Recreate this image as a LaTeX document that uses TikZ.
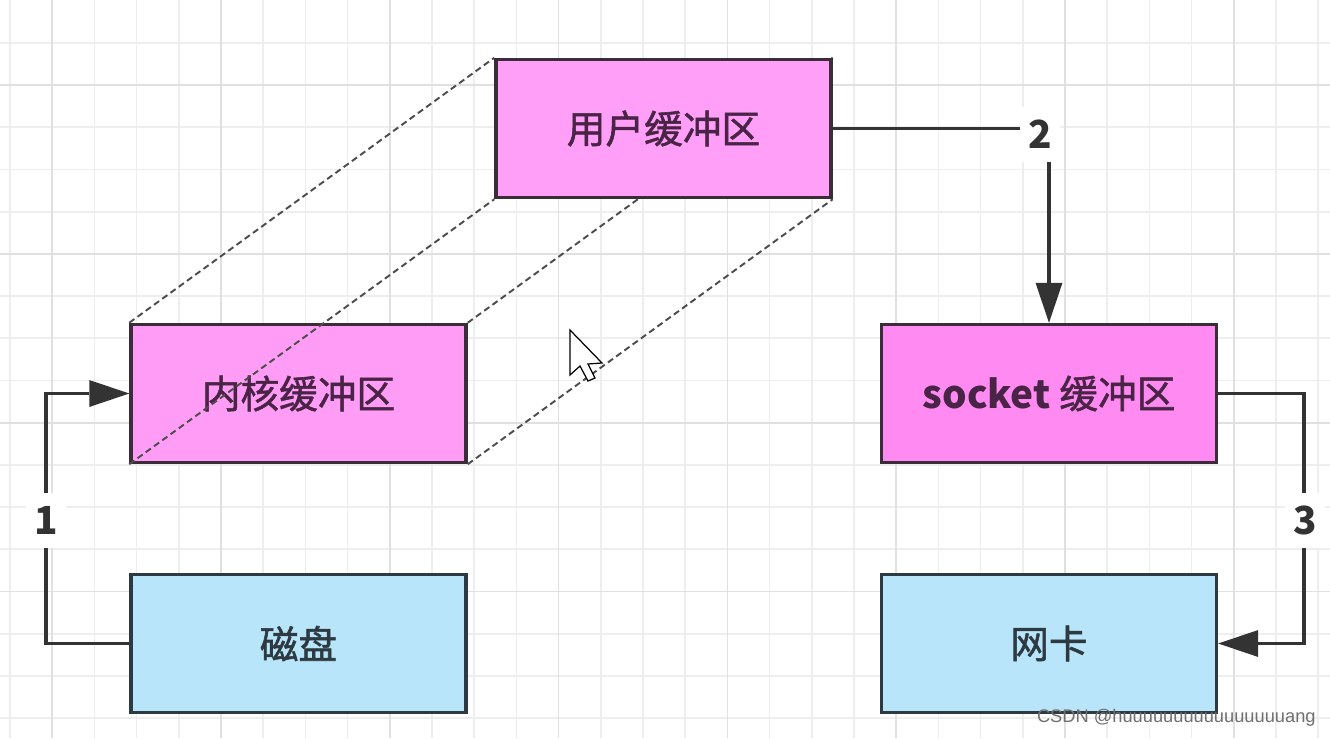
\documentclass[tikz,border=0pt]{standalone}
\usepackage{fontspec}
\setmainfont{Noto Sans CJK SC}
\newfontfamily\midfont[FakeBold=1.4]{Noto Sans CJK SC}
\newfontfamily\wmfont{Liberation Sans}
\pgfdeclarelayer{back}
\pgfdeclarelayer{front}
\pgfsetlayers{back,main,front}
\definecolor{userpink}{HTML}{FF9FF7}
\definecolor{kernelpink}{HTML}{FF9CF6}
\definecolor{socketpink}{HTML}{FF8AF2}
\definecolor{devblue}{HTML}{B9E5FA}
\definecolor{boxline}{HTML}{3B2C3A}
\definecolor{boxtext}{HTML}{4A2447}
\definecolor{devtext}{HTML}{2E3A42}
\definecolor{ink}{HTML}{333333}
\definecolor{dashgray}{HTML}{4D4D4D}
\definecolor{gridminor}{HTML}{EEEEEE}
\definecolor{gridmajor}{HTML}{E0E0E0}
\definecolor{wmgray}{HTML}{707070}

\begin{document}
\begin{tikzpicture}[x=0.02cm,y=-0.02cm]
            \tikzstyle{every node}+=[inner sep=0pt]
            \tikzstyle{buffer}=[draw=boxline, line width=2pt, minimum width=6.7cm, minimum height=2.76cm, font=\midfont\fontsize{22pt}{26pt}\selectfont, text=boxtext]
            \tikzstyle{device}=[buffer, fill=devblue, draw=devtext, text=devtext]
            \tikzstyle{ghost}=[draw=dashgray, line width=1.1pt, dash pattern=on 3.6pt off 2.2pt]
            \tikzstyle{flow}=[draw=ink, line width=2.1pt]
            \tikzstyle{num}=[fill=white, text=ink, minimum width=0.8cm, minimum height=1.1cm, font=\fontsize{22pt}{26pt}\selectfont\bfseries]
            \useasboundingbox (0,0) rectangle (1330,738);
            \begin{pgfonlayer}{back}
            \fill [white] (0,0) rectangle (1330,738);
            \foreach \k in {0,...,31} \draw [gridminor, line width=1pt] (10+42.2*\k,0) -- (10+42.2*\k,738);
            \foreach \k in {1,...,17} \draw [gridminor, line width=1pt] (0,0.7+42.2*\k) -- (1330,0.7+42.2*\k);
            \foreach \k in {1,5,...,29} \draw [gridmajor, line width=1pt] (10+42.2*\k,0) -- (10+42.2*\k,738);
            \foreach \k in {2,6,10,14} \draw [gridmajor, line width=1pt] (0,0.7+42.2*\k) -- (1330,0.7+42.2*\k);
            \node [buffer, fill=kernelpink] (kernel) at (298.5,393.5) {内核缓冲区};
            \end{pgfonlayer}
            \begin{pgfonlayer}{front}
            \node [buffer, fill=userpink] (user) at ([shift={(365,-265)}]kernel.center) {用户缓冲区};
            \end{pgfonlayer}
            \draw [ghost] (kernel.north west) -- (user.north west);
            \draw [ghost] (kernel.south west) -- (user.south west);
            \draw [ghost] (kernel.north east) -- (user.north east);
            \draw [ghost] (kernel.south east) -- (user.south east);
            \node [buffer, fill=socketpink] (socket) at (1049,393.5) {{\normalfont\bfseries socket} 缓冲区};
            \node [device] (disk) at (298.5,643.5) {磁盘};
            \node [device] (net) at (1049,643.5) {网卡};
            \coordinate (c1) at (46,520);
            \draw [flow] (disk.west) -| (c1) |- ([xshift=-0.8cm]kernel.west);
            \fill [ink] (kernel.west) -- ++(-40,-13.5) -- ++(0,27) -- cycle;
            \node [num] at (c1) {1};
            \draw [flow] (user.east) -| ([yshift=0.8cm]socket.north);
            \fill [ink] (socket.north) -- ++(-13.5,-40) -- ++(27,0) -- cycle;
            \node [num] at (1040,134) {2};
            \draw [flow] (socket.east) -- ++(86,0) |- ([xshift=0.8cm]net.east);
            \fill [ink] (net.east) -- ++(40,-13.5) -- ++(0,27) -- cycle;
            \node [num] at (1305,520) {3};
            \draw [black, fill=white, line width=0.7pt] (570,330) -- (570,375) -- (580,366) -- (588,381) -- (595,378) -- (588,364) -- (602,363) -- cycle;
            \node [font=\wmfont\fontsize{10.4pt}{12pt}\selectfont, text=wmgray, anchor=east] (mark) at (1316,718) {CSDN @huuuuuuuuuuuuuuuuang};
        \end{tikzpicture}
\end{document}
